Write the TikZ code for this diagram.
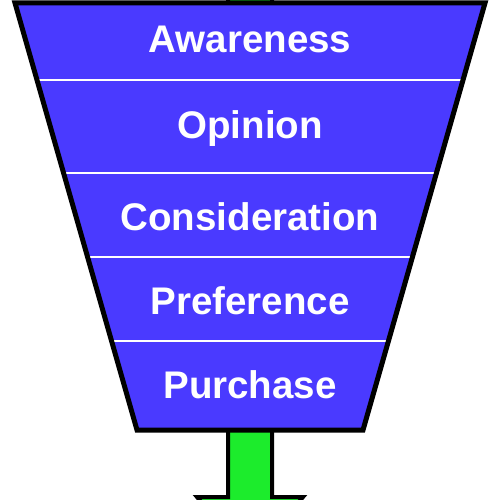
\documentclass[tikz,border=0pt]{standalone}
\usepackage{fontspec}
\setmainfont{Liberation Sans}
\usetikzlibrary{calc}
\definecolor{funnelblue}{RGB}{74,58,255}
\definecolor{arrowgreen}{RGB}{28,236,44}

\begin{document}
\begin{tikzpicture}[x=1pt,y=-1pt,
    stage/.style={anchor=base, text=white, font=\fontsize{38.5}{42}\selectfont\bfseries},
    divider/.style={white, line width=2pt}]
  \useasboundingbox (0,0) rectangle (500,500);
  \clip (0,0) rectangle (500,500);

  % Green arrow behind the funnel
  \draw[fill=arrowgreen, line width=4pt, line join=miter]
    (228,-60) -- (272,-60) -- (272,497) -- (303,497) -- (250,560)
    -- (197,497) -- (228,497) -- cycle;

  % Funnel corners
  \coordinate (tl) at (15,3);
  \coordinate (tr) at (485,3);
  \coordinate (br) at (363,430);
  \coordinate (bl) at (137,430);

  % Funnel body and dividers
  \fill[funnelblue] (tl) -- (tr) -- (br) -- (bl) -- cycle;
  \foreach \t in {0.180,0.398,0.595,0.792}
    \draw[divider] ($(tl)!\t!(bl)$) -- ($(tr)!\t!(br)$);
  \draw[line width=5pt, line join=miter] (tl) -- (tr) -- (br) -- (bl) -- cycle;

  % Stage labels
  \node[stage] (awareness) at (250,53) {Awareness};
  \node[stage] (opinion) at (250,138) {Opinion};
  \node[stage] (consideration) at (250,230) {Consideration};
  \node[stage] (preference) at (250,314) {Preference};
  \node[stage] (purchase) at (250,398) {Purchase};
\end{tikzpicture}
\end{document}
